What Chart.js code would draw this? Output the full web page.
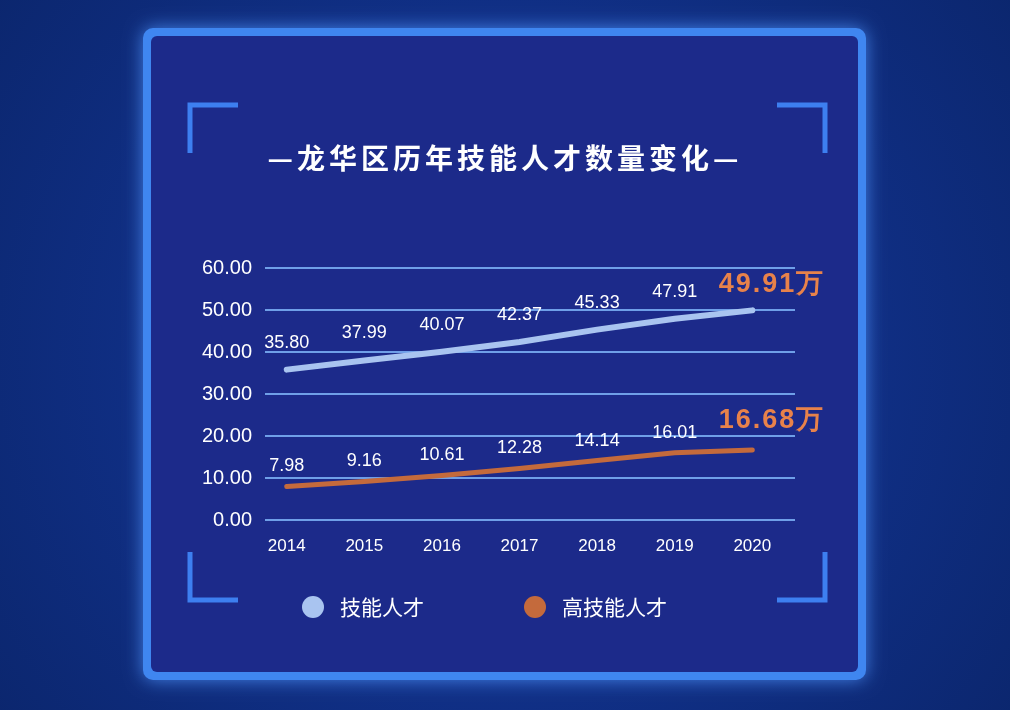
<!DOCTYPE html>
<html><head><meta charset="utf-8">
<script src="https://cdn.jsdelivr.net/npm/chart.js@4"></script>
<style>html,body{margin:0;padding:0;background:#0b2a78;}#c{display:block}</style>
</head><body>
<canvas id="c" width="1010" height="710"></canvas>
<script>
const years = [2014, 2015, 2016, 2017, 2018, 2019, 2020];
const skilled = [35.80, 37.99, 40.07, 42.37, 45.33, 47.91, 49.91];
const highSkilled = [7.98, 9.16, 10.61, 12.28, 14.14, 16.01, 16.68];
const seriesNames = ['技能人才', '高技能人才'];
const titleText = '—龙华区历年技能人才数量变化—';
const FONT = '"Noto Sans CJK SC", "Noto Sans", sans-serif';
const NUM = '"Liberation Sans", Arial, sans-serif';

function rr(ctx,x,y,w,h,r){ctx.beginPath();ctx.moveTo(x+r,y);ctx.arcTo(x+w,y,x+w,y+h,r);ctx.arcTo(x+w,y+h,x,y+h,r);ctx.arcTo(x,y+h,x,y,r);ctx.arcTo(x,y,x+w,y,r);ctx.closePath();}

const deco = {
  id:'deco',
  beforeDraw(chart){
    const ctx=chart.ctx;ctx.save();
    const g=ctx.createRadialGradient(505,355,100,505,355,700);
    g.addColorStop(0,'#14379a');g.addColorStop(1,'#0a2468');
    ctx.fillStyle=g;ctx.fillRect(0,0,1010,710);
    ctx.shadowColor='rgba(80,150,255,0.8)';ctx.shadowBlur=18;
    rr(ctx,143,28,723,652,10);ctx.fillStyle='#3f86f0';ctx.fill();
    ctx.shadowBlur=0;
    rr(ctx,151,36,707,636,6);ctx.fillStyle='#1c2a8a';ctx.fill();
    ctx.strokeStyle='#3d7ff0';ctx.lineWidth=5;ctx.lineCap='butt';
    const br=[[190,105,1,1],[825,105,-1,1],[190,600,1,-1],[825,600,-1,-1]];
    for(const [x,y,dx,dy] of br){ctx.beginPath();ctx.moveTo(x+dx*48,y);ctx.lineTo(x,y);ctx.lineTo(x,y+dy*48);ctx.stroke();}
    ctx.fillStyle='#ffffff';ctx.font='bold 28px '+FONT;ctx.textAlign='center';ctx.textBaseline='middle';
    if('letterSpacing' in ctx) ctx.letterSpacing='4px';
    ctx.fillText(titleText,505,158);
    if('letterSpacing' in ctx) ctx.letterSpacing='0px';
    ctx.font='21px '+FONT;ctx.textAlign='left';
    ctx.fillStyle='#a9c4f0';ctx.beginPath();ctx.arc(313,607,11,0,Math.PI*2);ctx.fill();
    ctx.fillStyle='#fff';ctx.fillText(seriesNames[0],340,607);
    ctx.fillStyle='#c46a3c';ctx.beginPath();ctx.arc(535,607,11,0,Math.PI*2);ctx.fill();
    ctx.fillStyle='#fff';ctx.fillText(seriesNames[1],562,607);
    ctx.restore();
  },
  afterDatasetsDraw(chart){
    const ctx=chart.ctx;ctx.save();ctx.textAlign='center';ctx.textBaseline='middle';
    chart.data.datasets.forEach((ds,di)=>{
      const meta=chart.getDatasetMeta(di);
      meta.data.forEach((p,i)=>{
        const v=ds.data[i].y;
        if(i===ds.data.length-1){
          ctx.fillStyle='#e8824a';ctx.font='bold 27px '+NUM;
          if('letterSpacing' in ctx) ctx.letterSpacing='2px';
          ctx.fillText(v.toFixed(2)+'万',772,p.y-(di===0?26:29));
          if('letterSpacing' in ctx) ctx.letterSpacing='0px';
        } else {
          ctx.fillStyle='#fff';ctx.font='18px '+NUM;
          ctx.fillText(v.toFixed(2),p.x,p.y-(di===0?27:20));
        }
      });
    });
    ctx.restore();
  }
};

new Chart(document.getElementById('c'),{
  type:'line',
  data:{datasets:[
    {label:seriesNames[0],data:years.map((y,i)=>({x:y,y:skilled[i]})),borderColor:'#a9c4f0',borderWidth:6,pointRadius:0,borderCapStyle:'round'},
    {label:seriesNames[1],data:years.map((y,i)=>({x:y,y:highSkilled[i]})),borderColor:'#c46a3c',borderWidth:5,pointRadius:0,borderCapStyle:'round'}
  ]},
  options:{
    responsive:false,animation:false,
    layout:{padding:{left:185,right:215,top:268,bottom:150}},
    plugins:{legend:{display:false},tooltip:{enabled:false}},
    scales:{
      x:{type:'linear',min:2013.72,max:2020.55,grid:{display:false},border:{display:false},
        afterFit(s){s.height=40;},
        afterBuildTicks(s){s.ticks=years.map(v=>({value:v}));},
        ticks:{color:'#fff',font:{size:17,family:NUM},padding:8,callback:v=>String(v),maxRotation:0,autoSkip:false}},
      y:{min:0,max:60,afterFit(s){s.width=80;},
        grid:{color:'#6f9fe8',lineWidth:2,drawTicks:false},border:{display:false},
        ticks:{stepSize:10,color:'#fff',font:{size:20,family:NUM},padding:13,callback:v=>v.toFixed(2)}}
    }
  },
  plugins:[deco]
});
</script>
</body></html>
